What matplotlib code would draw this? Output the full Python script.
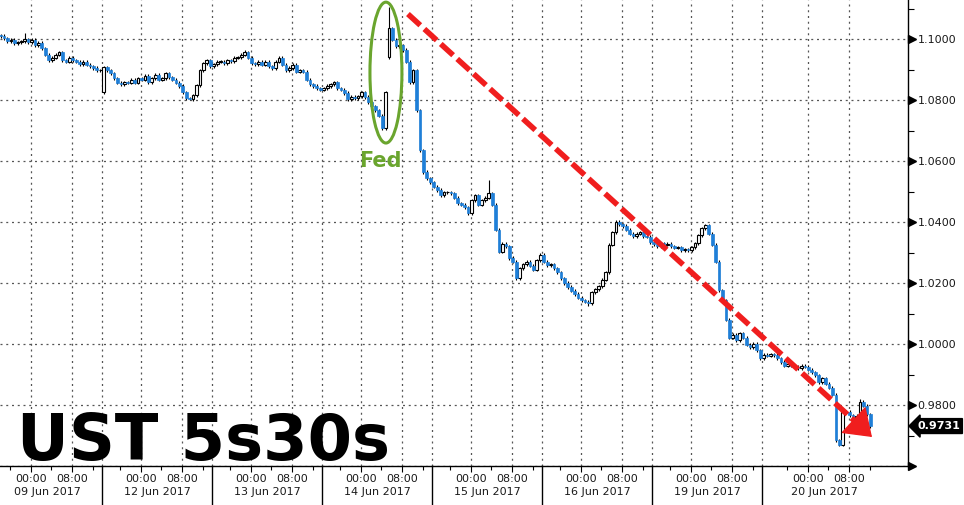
import numpy as np
import matplotlib
matplotlib.use("Agg")
import matplotlib.pyplot as plt
from matplotlib.patches import Ellipse
from matplotlib.transforms import blended_transform_factory, ScaledTranslation

# 40-minute candles, 32 slots per trading session
bars_per_day = 32
first_bar = 2  # first two slots of 09 Jun are off the left edge

day_labels = ["09 Jun 2017", "12 Jun 2017", "13 Jun 2017", "14 Jun 2017",
              "15 Jun 2017", "16 Jun 2017", "19 Jun 2017", "20 Jun 2017"]
# slot of 00:00 inside each session
midnight_slot = [11.25, 11.25, 11.25, 11.25, 11.25, 11.25, 11.25, 13.3]

# closes
jun09 = [1.1010, 1.1003, 1.0993, 1.0997, 1.0987, 1.0990, 1.0993, 1.1000, 1.0990, 1.0997,
         1.0980, 1.0987, 1.0970, 1.0948, 1.0931, 1.0938, 1.0948, 1.0957, 1.0931, 1.0925,
         1.0938, 1.0931, 1.0925, 1.0918, 1.0925, 1.0915, 1.0911, 1.0905, 1.0898, 1.0898]
jun12 = [1.0908, 1.0898, 1.0888, 1.0872, 1.0856, 1.0852, 1.0859, 1.0856, 1.0866, 1.0856,
         1.0872, 1.0866, 1.0879, 1.0859, 1.0872, 1.0882, 1.0866, 1.0872, 1.0888, 1.0875,
         1.0866, 1.0856, 1.0846, 1.0826, 1.0806, 1.0803, 1.0816, 1.0849, 1.0898, 1.0921,
         1.0931, 1.0911]
jun13 = [1.0918, 1.0925, 1.0925, 1.0921, 1.0931, 1.0928, 1.0938, 1.0941, 1.0948, 1.0957,
         1.0938, 1.0921, 1.0918, 1.0925, 1.0915, 1.0925, 1.0911, 1.0905, 1.0925, 1.0938,
         1.0915, 1.0898, 1.0905, 1.0915, 1.0892, 1.0898, 1.0892, 1.0866, 1.0852, 1.0846,
         1.0839, 1.0833]
jun14 = [1.0839, 1.0846, 1.0852, 1.0859, 1.0839, 1.0833, 1.0823, 1.0803, 1.0810, 1.0806,
         1.0813, 1.0826, 1.0810, 1.0793, 1.0780, 1.0767, 1.0748, 1.0708, 1.0826, 1.1036,
         1.0997, 1.0977, 1.0980, 1.0964, 1.0925, 1.0859, 1.0898, 1.0767, 1.0636, 1.0564,
         1.0544, 1.0531]
jun15 = [1.0515, 1.0505, 1.0488, 1.0498, 1.0498, 1.0495, 1.0479, 1.0462, 1.0456, 1.0449,
         1.0429, 1.0472, 1.0488, 1.0456, 1.0472, 1.0479, 1.0495, 1.0456, 1.0374, 1.0302,
         1.0328, 1.0321, 1.0282, 1.0269, 1.0216, 1.0249, 1.0262, 1.0269, 1.0256, 1.0243,
         1.0275, 1.0292]
jun16 = [1.0269, 1.0259, 1.0262, 1.0249, 1.0236, 1.0216, 1.0200, 1.0187, 1.0174, 1.0164,
         1.0151, 1.0144, 1.0138, 1.0134, 1.0170, 1.0180, 1.0190, 1.0210, 1.0236, 1.0325,
         1.0367, 1.0400, 1.0393, 1.0387, 1.0374, 1.0361, 1.0354, 1.0361, 1.0367, 1.0354,
         1.0351, 1.0334]
jun19 = [1.0328, 1.0321, 1.0331, 1.0325, 1.0328, 1.0321, 1.0315, 1.0318, 1.0308, 1.0311,
         1.0308, 1.0318, 1.0331, 1.0357, 1.0380, 1.0390, 1.0361, 1.0325, 1.0269, 1.0177,
         1.0144, 1.0079, 1.0020, 1.0030, 1.0013, 1.0036, 1.0020, 0.9997, 0.9990, 1.0000,
         0.9980, 0.9954]
jun20 = [0.9964, 0.9961, 0.9967, 0.9964, 0.9954, 0.9941, 0.9928, 0.9934, 0.9928, 0.9925,
         0.9921, 0.9928, 0.9925, 0.9915, 0.9908, 0.9898, 0.9875, 0.9888, 0.9869, 0.9856,
         0.9833, 0.9685, 0.9669, 0.9777, 0.9777, 0.9767, 0.9757, 0.9764, 0.9810, 0.9797,
         0.9770, 0.9731]

# gaps and notable wicks, keyed by slot number
open_gaps = {2: 1.1013, 32: 1.0826, 115: 1.0941}
high_spikes = {9: 1.1020, 73: 1.0964, 115: 1.1105, 144: 1.0538, 252: 0.9820}
low_spikes = {57: 1.0800, 114: 1.0702, 173: 1.0125, 246: 0.9666}
wick = 0.0005

y_major = np.arange(0.96, 1.1001, 0.02)

close = np.array(jun09 + jun12 + jun13 + jun14 + jun15 + jun16 + jun19 + jun20)
slots = np.arange(first_bar, first_bar + len(close))
opens = np.r_[close[0], close[:-1]]
for k, v in open_gaps.items():
    opens[k - first_bar] = v
hi = np.maximum(opens, close) + wick
lo = np.minimum(opens, close) - wick
for k, v in high_spikes.items():
    hi[k - first_bar] = v
for k, v in low_spikes.items():
    lo[k - first_bar] = v

x = slots + 0.5
up = close >= opens
bottom = np.minimum(opens, close)
height = np.maximum(np.abs(close - opens), 0.00015)

px = 3.4375  # pixels per slot
fig = plt.figure(figsize=(9.64, 5.05), dpi=100)
ax = fig.add_axes([0, 39 / 505, 908 / 964, 466 / 505])
ax.set_xlim(8 / px, 916 / px)
ax.set_ylim(0.96, 1.1128)

grid_kw = dict(color="#555555", lw=0.9, ls=(0, (1.6, 3)), zorder=0)
for yv in y_major:
    ax.axhline(yv, **grid_kw)

tick_pos, tick_lab, minor_pos = [], [], []
bx = blended_transform_factory(ax.transData, ax.transAxes)
for d, lab in enumerate(day_labels):
    m = d * bars_per_day + midnight_slot[d]
    for t, s in [(m, "00:00"), (m + 12, "08:00")]:
        ax.axvline(t, **grid_kw)
        tick_pos.append(t)
        tick_lab.append(s)
    minor_pos += [m - 6, m + 6, m + 18]
    ax.text(m + 4.8, -0.056, lab, transform=bx, ha="center", va="center",
            fontsize=8, color="#1a1a1a")
    if d > 0:
        sep = d * bars_per_day
        ax.axvline(sep, **grid_kw)
        ax.plot([sep, sep], [0, -40 / 466], transform=bx, color="black",
                lw=1, clip_on=False)

# candles
ax.vlines(x, lo, hi, color="black", lw=0.8, zorder=2)
ax.bar(x[up], height[up], bottom=bottom[up], width=0.8, facecolor="white",
       edgecolor="black", lw=0.8, zorder=3)
ax.bar(x[~up], height[~up], bottom=bottom[~up], width=0.8, facecolor="#1f7fd8",
       edgecolor="#1f7fd8", lw=0.5, zorder=3)

# axes styling
for side in ["top", "left"]:
    ax.spines[side].set_visible(False)
for side in ["right", "bottom"]:
    ax.spines[side].set_linewidth(1)
ax.yaxis.tick_right()
ax.set_yticks(y_major)
ax.set_yticklabels([""] + ["%.4f" % v for v in y_major[1:]])
ax.set_yticks(np.arange(0.97, 1.111, 0.02), minor=True)
ax.tick_params(axis="y", which="major", length=0, pad=7, labelsize=8,
               labelcolor="#1a1a1a")
ax.tick_params(axis="y", which="minor", length=4, width=0.8, direction="out")
ax.set_xticks(tick_pos)
ax.set_xticklabels(tick_lab)
ax.set_xticks(minor_pos, minor=True)
ax.tick_params(axis="x", which="major", length=4, width=0.8, pad=1.5,
               labelsize=8, labelcolor="#1a1a1a")
ax.tick_params(axis="x", which="minor", length=3, width=0.8)

# arrow-shaped major ticks on the price axis
tri = blended_transform_factory(ax.transAxes, ax.transData) + \
    ScaledTranslation(3.5 / 100, 0, fig.dpi_scale_trans)
ax.plot(np.ones(len(y_major)), y_major, ls="none", marker=">", ms=5.5,
        color="black", transform=tri, clip_on=False)

# last price tag
last = close[-1]
ax.text(1.010, last, "%.4f" % last,
        transform=blended_transform_factory(ax.transAxes, ax.transData),
        ha="left", va="center", fontsize=8, fontweight="bold", color="white",
        bbox=dict(boxstyle="larrow,pad=0.22", fc="black", ec="black"),
        clip_on=False)

# annotations
ax.add_patch(Ellipse((114.6, 1.0890), 9.3, 0.0462, fill=False,
                     ec="#6aa52e", lw=2.2, zorder=5))
ax.text(112.9, 1.0600, "Fed", ha="center", va="center", fontsize=15,
        fontweight="bold", color="#6aa52e", zorder=5)
red = "#f01e1e"
arrow_start = (121.0, 1.1082)
head_base = (251.0, 0.9747)
arrow_tip = (256.0, 0.9695)
ax.plot([arrow_start[0], head_base[0]], [arrow_start[1], head_base[1]],
        color=red, lw=4, ls=(0, (3, 1)), solid_capstyle="butt", zorder=6)
ax.annotate("", xy=arrow_tip, xytext=head_base,
            arrowprops=dict(arrowstyle="-|>,head_length=0.85,head_width=0.6",
                            lw=1, color=red, shrinkA=0, shrinkB=0,
                            mutation_scale=20),
            zorder=6)
ax.text(7.3, 0.9620, "UST 5s30s", ha="left", va="baseline", fontsize=46,
        fontweight="bold", color="black", zorder=7)

fig.savefig("out.png", dpi=100)
